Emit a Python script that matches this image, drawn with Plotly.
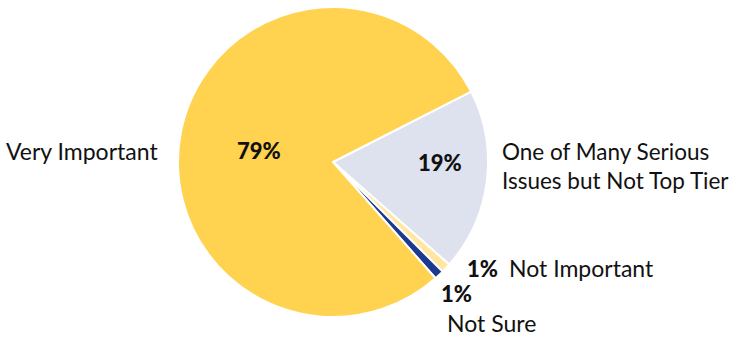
import plotly.graph_objects as go

# Survey responses, in the drawing order of the pie (clockwise)
labels = ["One of Many Serious Issues but Not Top Tier", "Not Important", "Not Sure", "Very Important"]
values = [19, 1, 1, 79]
colors = ["#DDE2EE", "#FFE7A1", "#1C3A8E", "#FFD24F"]

W, H = 739, 339
cx, cy, r = 333, 162, 155

fig = go.Figure(go.Pie(
    labels=labels,
    values=values,
    sort=False,
    direction="clockwise",
    rotation=63,
    textinfo="none",
    hoverinfo="label+percent",
    marker=dict(colors=colors, line=dict(color="white", width=2)),
    domain=dict(x=[(cx - r) / W, (cx + r) / W], y=[(H - cy - r) / H, (H - cy + r) / H]),
    showlegend=False,
))

FONT = "Lato, 'Open Sans', sans-serif"
pct = [f"{v}%" for v in values]

def px(x, y, text, size=23, xanchor="center", weight="normal"):
    fig.add_annotation(x=x / W, y=1 - y / H, xref="paper", yref="paper",
                       text=text, showarrow=False, xanchor=xanchor, yanchor="middle",
                       align="left", font=dict(family=FONT, size=size, color="#111111", weight=weight))

# category labels
px(160, 151, labels[3], xanchor="right")
px(500, 166, "One of Many Serious<br>Issues but Not Top Tier", size=22.5, xanchor="left")
px(507, 268, labels[1], xanchor="left")
px(445, 323, labels[2], xanchor="left")

# percentage labels
px(259, 151, pct[3], size=22, weight=900)
px(440, 162, pct[0], size=22, weight=900)
px(482, 268, pct[1], size=22, weight=900)
px(457, 293, pct[2], size=22, weight=900)

fig.update_layout(
    width=W, height=H,
    margin=dict(l=0, r=0, t=0, b=0),
    paper_bgcolor="white",
    plot_bgcolor="white",
)

fig.write_html("out.html")
